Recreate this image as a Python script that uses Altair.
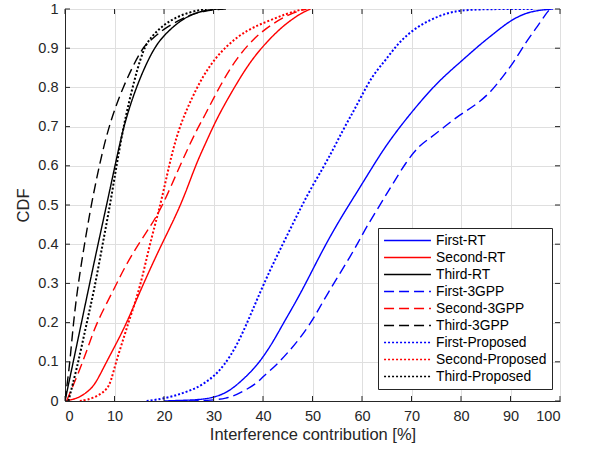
import altair as alt
import pandas as pd

series_names = ["First-RT", "Second-RT", "Third-RT",
                "First-3GPP", "Second-3GPP", "Third-3GPP",
                "First-Proposed", "Second-Proposed", "Third-Proposed"]
series_colors = ["#0000ff", "#ff0000", "#000000"] * 3
series_dashes = [[1, 0]] * 3 + [[10, 5]] * 3 + [[2, 2]] * 3
dotted_names = ["First-Proposed", "Second-Proposed", "Third-Proposed"]

first_rt_x = [20, 22, 27.3, 30, 32.7, 35.4, 38, 39.8, 42, 44.1, 46.5, 48.8, 52.2, 55.6, 59.6, 63.8, 66.5, 69.5, 74.9, 80, 83.7, 87.1, 90.1, 93.9, 98.6]
first_rt_y = [0, 0.001, 0.003, 0.009, 0.021, 0.048, 0.08, 0.108, 0.15, 0.198, 0.25, 0.304, 0.389, 0.465, 0.545, 0.632, 0.68, 0.729, 0.81, 0.866, 0.908, 0.942, 0.972, 0.995, 1]

second_rt_x = [0, 2.4, 4, 5.7, 7, 8.4, 10.5, 12.5, 15.5, 19.5, 23.5, 26.3, 28.5, 30.7, 34.1, 37.4, 40.8, 44.2, 47.6, 49.6]
second_rt_y = [0, 0.006, 0.018, 0.036, 0.065, 0.1, 0.15, 0.2, 0.29, 0.4, 0.5, 0.6, 0.66, 0.722, 0.798, 0.866, 0.917, 0.959, 0.989, 1]

third_rt_x = [0, 1, 2.5, 4.7, 6.5, 8.4, 10.1, 11.8, 14.3, 17.8, 20.5, 23.9, 27.3, 30, 32.5]
third_rt_y = [0, 0.06, 0.15, 0.283, 0.39, 0.5, 0.6, 0.7, 0.8, 0.9, 0.94, 0.977, 0.994, 1, 1]

first_3gpp_x = [25, 28.6, 32.7, 35.4, 38.8, 40, 42.7, 45.4, 47.4, 49.8, 51.5, 53.5, 55.5, 57.6, 59.3, 60.9, 63, 65, 66.1, 68.9, 71.6, 73.6, 76.3, 79.7, 83, 86.1, 88.4, 90.5, 93.2, 95.2, 97.2, 98]
first_3gpp_y = [0, 0.001, 0.006, 0.02, 0.045, 0.063, 0.091, 0.129, 0.159, 0.202, 0.24, 0.283, 0.325, 0.368, 0.406, 0.444, 0.487, 0.529, 0.551, 0.61, 0.652, 0.669, 0.696, 0.73, 0.755, 0.789, 0.827, 0.861, 0.917, 0.951, 0.989, 1]

second_3gpp_x = [0.3, 1, 2, 3.6, 5, 6.4, 9.8, 12, 14.8, 17.5, 19.8, 23.2, 26.5, 28, 31.4, 34.7, 38.1, 41.5, 45.5, 48.8]
second_3gpp_y = [0, 0.02, 0.05, 0.1, 0.15, 0.2, 0.283, 0.34, 0.4, 0.45, 0.5, 0.6, 0.69, 0.722, 0.807, 0.875, 0.925, 0.959, 0.989, 1]

third_3gpp_x = [0, 0.5, 1, 1.7, 2.5, 3.3, 4.2, 5.3, 6.9, 8.8, 11.6, 15.5, 17, 20.2, 25.3, 28, 32]
third_3gpp_y = [0, 0.05, 0.1, 0.2, 0.283, 0.35, 0.42, 0.5, 0.6, 0.7, 0.8, 0.9, 0.917, 0.953, 0.986, 0.995, 1]

first_prop_x = [16.5, 20.5, 23.9, 27.3, 30, 32, 34.7, 37.3, 39.3, 41.4, 43.4, 45.4, 47.4, 49.5, 52.1, 54.1, 56.1, 58.1, 60, 62.1, 64.8, 67.3, 70.2, 73.6, 77, 80, 85, 94.5]
first_prop_y = [0, 0.007, 0.02, 0.037, 0.062, 0.088, 0.14, 0.214, 0.274, 0.333, 0.385, 0.436, 0.487, 0.538, 0.594, 0.64, 0.69, 0.735, 0.78, 0.83, 0.87, 0.913, 0.946, 0.972, 0.989, 0.997, 1, 1]

second_prop_x = [3, 5.7, 8.4, 9.3, 10.3, 11.6, 12.8, 15.2, 17.1, 19.3, 21.0, 23.0, 26.6, 29.3, 32.7, 36.8, 40.8, 44.9, 48.2]
second_prop_y = [0, 0.006, 0.027, 0.05, 0.1, 0.15, 0.2, 0.29, 0.4, 0.5, 0.6, 0.7, 0.8, 0.858, 0.908, 0.947, 0.968, 0.989, 1]

third_prop_x = [0.7, 1.5, 2.7, 4.4, 5.9, 7.6, 9.1, 10.4, 11.8, 13.6, 15.8, 17.5, 19.5, 21.9, 25.3, 28.6]
third_prop_y = [0, 0.04, 0.1, 0.2, 0.283, 0.4, 0.5, 0.6, 0.7, 0.8, 0.9, 0.93, 0.955, 0.976, 0.993, 1]

x_ticks = [0, 10, 20, 30, 40, 50, 60, 70, 80, 90, 100]
y_ticks = [0, 0.1, 0.2, 0.3, 0.4, 0.5, 0.6, 0.7, 0.8, 0.9, 1]

series_data = [
    (first_rt_x, first_rt_y), (second_rt_x, second_rt_y), (third_rt_x, third_rt_y),
    (first_3gpp_x, first_3gpp_y), (second_3gpp_x, second_3gpp_y), (third_3gpp_x, third_3gpp_y),
    (first_prop_x, first_prop_y), (second_prop_x, second_prop_y), (third_prop_x, third_prop_y),
]

rows = []
for name, (xs, ys) in zip(series_names, series_data):
    for xv, yv in zip(xs, ys):
        rows.append({"series": name, "x": xv, "y": yv, "dotted": name in dotted_names})
df = pd.DataFrame(rows)

W, H = 495, 392
FONT = "Liberation Sans"
AX = "#262626"

xscale = alt.Scale(domain=[0, 100], nice=False, zero=False)
yscale = alt.Scale(domain=[0, 1], nice=False)
xaxis = alt.Axis(values=x_ticks, title="Interference contribution [%]", format="d",
                 labelPadding=8, titlePadding=4, ticks=False)
yaxis = alt.Axis(values=y_ticks, title="CDF", format="~g",
                 labelPadding=7, titlePadding=6, ticks=False)

legend = alt.Legend(
    title=None, orient="none", legendX=313, legendY=219,
    symbolType="stroke", symbolSize=2200, symbolStrokeWidth=1.5,
    labelFont=FONT, labelFontSize=13.8, labelColor="#000000",
    strokeColor=AX, fillColor="white", padding=5, rowPadding=2,
    clipHeight=15, labelOffset=4, labelLimit=300,
)

enc = dict(
    x=alt.X("x:Q", scale=xscale, axis=xaxis),
    y=alt.Y("y:Q", scale=yscale, axis=yaxis),
    color=alt.Color("series:N", scale=alt.Scale(domain=series_names, range=series_colors), legend=legend),
    strokeDash=alt.StrokeDash("series:N", scale=alt.Scale(domain=series_names, range=series_dashes), legend=legend),
)

base = alt.Chart(df)
lines_main = base.transform_filter("!datum.dotted").mark_line(
    strokeWidth=1.4, interpolate="basis", clip=True).encode(**enc)
lines_dot = base.transform_filter("datum.dotted").mark_line(
    strokeWidth=2, interpolate="basis", clip=True).encode(**enc)

xt = pd.DataFrame({"x": x_ticks})
yt = pd.DataFrame({"y": y_ticks})

xtick_bottom = alt.Chart(xt).mark_rule(color=AX, strokeWidth=1).encode(
    x=alt.X("x:Q", scale=xscale, axis=xaxis), y=alt.value(H), y2=alt.value(H - 5))
xtick_top = alt.Chart(xt).mark_rule(color=AX, strokeWidth=1).encode(
    x=alt.X("x:Q", scale=xscale, axis=xaxis), y=alt.value(0), y2=alt.value(5))
ytick_left = alt.Chart(yt).mark_rule(color=AX, strokeWidth=1).encode(
    y=alt.Y("y:Q", scale=yscale, axis=yaxis), x=alt.value(0), x2=alt.value(5))
ytick_right = alt.Chart(yt).mark_rule(color=AX, strokeWidth=1).encode(
    y=alt.Y("y:Q", scale=yscale, axis=yaxis), x=alt.value(W), x2=alt.value(W - 5))

chart = alt.layer(lines_main, lines_dot, xtick_bottom, xtick_top, ytick_left, ytick_right).properties(
    width=W, height=H,
    autosize=alt.AutoSizeParams(type="none"),
    padding={"left": 65, "top": 9, "right": 29, "bottom": 50},
    background="white",
).configure_view(
    stroke=AX, strokeWidth=1
).configure_axis(
    domainColor=AX, domainWidth=1,
    labelColor=AX, labelFont=FONT, labelFontSize=14.5,
    titleColor=AX, titleFont=FONT, titleFontSize=16.5, titleFontWeight="normal",
    gridColor="#dfdfdf", gridWidth=1,
)

chart.save("out.html", embed_options={"renderer": "svg", "actions": False})
